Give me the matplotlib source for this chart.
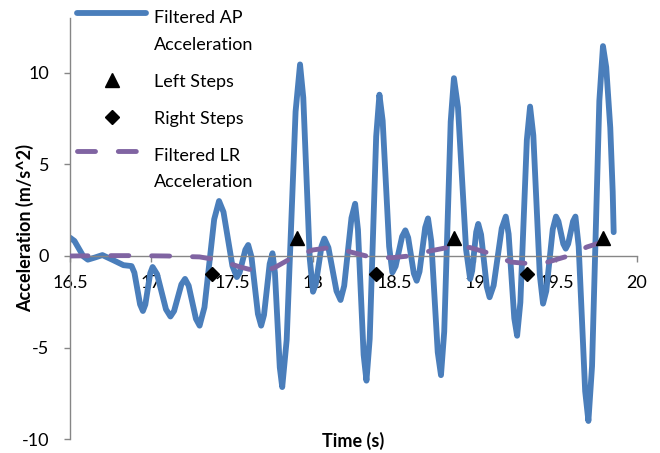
"""Filtered AP / LR acceleration with detected left and right steps."""

import matplotlib

matplotlib.use("Agg")
import matplotlib.pyplot as plt
import numpy as np
from matplotlib.legend_handler import HandlerLine2D

# Filtered AP acceleration (m/s^2)
ap_time = [
    16.50, 16.5275, 16.555, 16.5825, 16.61, 16.655, 16.70, 16.765, 16.83, 16.88,
    16.8975, 16.915, 16.9325, 16.95, 16.965, 16.98, 16.995, 17.01, 17.0375, 17.065,
    17.0925, 17.12, 17.1425, 17.165, 17.1875, 17.21, 17.2325, 17.255, 17.2775, 17.30,
    17.33, 17.36, 17.39, 17.42, 17.4475, 17.475, 17.5025, 17.53, 17.5475, 17.565,
    17.5825, 17.60, 17.62, 17.64, 17.66, 17.68, 17.6975, 17.715, 17.7325, 17.75,
    17.765, 17.78, 17.795, 17.81, 17.8375, 17.865, 17.8925, 17.92, 17.94, 17.96,
    17.98, 18.00, 18.0175, 18.035, 18.0525, 18.07, 18.095, 18.12, 18.145, 18.17,
    18.1925, 18.215, 18.2375, 18.26, 18.2775, 18.295, 18.3125, 18.33, 18.35, 18.37,
    18.39, 18.41, 18.43, 18.45, 18.47, 18.49, 18.51, 18.53, 18.55, 18.57,
    18.5875, 18.605, 18.6225, 18.64, 18.6575, 18.675, 18.6925, 18.71, 18.73, 18.75,
    18.77, 18.79, 18.81, 18.83, 18.85, 18.87, 18.895, 18.92, 18.945, 18.97,
    18.9825, 18.995, 19.0075, 19.02, 19.0375, 19.055, 19.0725, 19.09, 19.115, 19.14,
    19.165, 19.19, 19.2075, 19.225, 19.2425, 19.26, 19.28, 19.30, 19.32, 19.34,
    19.36, 19.38, 19.40, 19.42, 19.44, 19.46, 19.48, 19.50, 19.515, 19.53,
    19.545, 19.56, 19.575, 19.59, 19.605, 19.62, 19.64, 19.66, 19.68, 19.70,
    19.7225, 19.745, 19.7675, 19.79, 19.81, 19.835, 19.85, 19.856,
]
ap_accel = [
    1.0, 0.82, 0.4, -0.02, -0.2, -0.08, 0.05, -0.22, -0.5, -0.55,
    -0.91, -1.78, -2.64, -3.0, -2.65, -1.8, -0.95, -0.6, -0.99, -1.95,
    -2.91, -3.3, -3.0, -2.28, -1.55, -1.25, -1.62, -2.53, -3.43, -3.8,
    -2.8, -0.4, 2.0, 3.0, 2.4, 0.93, -0.54, -1.15, -0.89, -0.28,
    0.34, 0.6, -0.04, -1.6, -3.16, -3.8, -3.22, -1.83, -0.43, 0.15,
    -0.92, -3.5, -6.08, -7.15, -4.58, 1.65, 7.88, 10.45, 8.64, 4.25,
    -0.14, -1.95, -1.53, -0.5, 0.53, 0.95, 0.46, -0.73, -1.91, -2.4,
    -1.63, 0.23, 2.08, 2.85, 1.44, -1.98, -5.39, -6.8, -4.52, 1.0,
    6.52, 8.8, 7.38, 3.95, 0.52, -0.9, -0.56, 0.25, 1.06, 1.4,
    1.0, 0.03, -0.95, -1.35, -0.85, 0.35, 1.55, 2.05, 0.80, -2.23,
    -5.25, -6.5, -4.13, 1.6, 7.33, 9.7, 8.10, 4.23, 0.35, -1.25,
    -0.81, 0.25, 1.31, 1.75, 1.17, -0.25, -1.67, -2.25, -1.61, -0.05,
    1.51, 2.15, 1.2, -1.1, -3.4, -4.35, -2.53, 1.9, 6.33, 8.15,
    6.58, 2.78, -1.03, -2.6, -1.91, -0.23, 1.46, 2.15, 1.89, 1.28,
    0.66, 0.4, 0.66, 1.28, 1.89, 2.15, 0.52, -3.43, -7.37, -9.0,
    -6.01, 1.23, 8.46, 11.45, 10.3, 7.0, 3.5, 1.3,
]

# Filtered LR acceleration (m/s^2)
lr_time = [
    16.5, 16.7, 16.9, 17.1, 17.3, 17.43, 17.55, 17.67, 17.76, 17.88,
    18.0, 18.13, 18.24, 18.37, 18.49, 18.64, 18.72, 18.87, 18.97, 19.11,
    19.22, 19.34, 19.45, 19.59, 19.69, 19.79, 19.87,
]
lr_accel = [
    0.0, 0.02, 0.02, 0.0, -0.05, -0.25, -0.6, -0.87, -0.65, -0.05,
    0.33, 0.49, 0.2, -0.09, -0.09, 0.04, 0.27, 0.53, 0.46, 0.09,
    -0.33, -0.42, -0.33, 0.04, 0.49, 0.77, 0.9,
]

# step events
left_step_time = [17.90, 18.87, 19.79]
left_step_accel = [1.0, 1.0, 1.0]
right_step_time = [17.375, 18.39, 19.32]
right_step_accel = [-1.0, -1.0, -1.0]

x_ticks = [16.5, 17, 17.5, 18, 18.5, 19, 19.5, 20]
x_tick_labels = ["16.5", "17", "17.5", "18", "18.5", "19", "19.5", "20"]
y_ticks = [-10, -5, 0, 5, 10]
y_tick_labels = ["-10", "-5", "0", "5", "10"]

AP_COLOR = "#4a7ebb"
LR_COLOR = "#8064a2"
AXIS_COLOR = "#868686"
FONT_SIZE = 13


class FirstLineHandler(HandlerLine2D):
    """Put the legend line next to the first line of a two-line label."""

    def __init__(self, shift, **kwargs):
        super().__init__(**kwargs)
        self.shift = shift

    def create_artists(self, legend, orig_handle, xdescent, ydescent,
                       width, height, fontsize, trans):
        artists = super().create_artists(legend, orig_handle, xdescent, ydescent,
                                         width, height, fontsize, trans)
        for artist in artists:
            artist.set_ydata(np.asarray(artist.get_ydata()) + self.shift)
        return artists


plt.rcParams["font.family"] = ["Lato", "DejaVu Sans"]

fig = plt.figure(figsize=(6.6, 4.53), dpi=100)
ax = fig.add_axes([70 / 660, 1 - 439.3 / 453, 567 / 660, 421.6 / 453])

ap_line, = ax.plot(ap_time, ap_accel, color=AP_COLOR, lw=4.2,
                   solid_joinstyle="round", solid_capstyle="round",
                   label="Filtered AP\nAcceleration", zorder=2)
left_marks, = ax.plot(left_step_time, left_step_accel, "^", color="black",
                      ms=10.5, ls="none", label="Left Steps", zorder=4)
right_marks, = ax.plot(right_step_time, right_step_accel, "D", color="black",
                       ms=7, ls="none", label="Right Steps", zorder=4)
lr_line, = ax.plot(lr_time, lr_accel, color=LR_COLOR, lw=3.5,
                   dashes=(3.7, 4.7), dash_capstyle="round",
                   label="Filtered LR\nAcceleration", zorder=3)

ax.set_xlim(16.5, 20)
ax.set_ylim(-10, 13)
ax.set_xticks(x_ticks)
ax.set_xticklabels(x_tick_labels)
ax.set_yticks(y_ticks)
ax.set_yticklabels(y_tick_labels)
ax.set_axisbelow(True)

for side in ["top", "right"]:
    ax.spines[side].set_visible(False)
ax.spines["left"].set_color(AXIS_COLOR)
ax.spines["bottom"].set_color(AXIS_COLOR)
ax.spines["left"].set_linewidth(1.0)
ax.spines["bottom"].set_linewidth(1.0)
ax.spines["bottom"].set_position(("data", 0))

ax.tick_params(axis="x", direction="out", length=4, width=1.0, color=AXIS_COLOR,
               labelsize=FONT_SIZE, pad=10)
ax.tick_params(axis="y", direction="out", length=4, width=1.0, color=AXIS_COLOR,
               labelsize=FONT_SIZE, pad=11)

ax.set_xlabel("Time (s)", fontsize=FONT_SIZE, fontweight="bold")
ax.xaxis.set_label_coords(0.5, 0.018)
ax.set_ylabel("Acceleration (m/s^2)", fontsize=FONT_SIZE, fontweight="bold")
ax.yaxis.set_label_coords(-0.063, 0.5)

line_shift = 13.5
legend = ax.legend(
    handles=[ap_line, left_marks, right_marks, lr_line],
    handler_map={ap_line: FirstLineHandler(line_shift),
                 lr_line: FirstLineHandler(line_shift)},
    loc="upper left",
    bbox_to_anchor=(0.012, 1.018),
    frameon=False,
    fontsize=FONT_SIZE,
    borderpad=0,
    borderaxespad=0,
    handlelength=3.85,
    handletextpad=0.4,
    labelspacing=1.17,
)
for text in legend.get_texts():
    text.set_linespacing(1.8)

fig.savefig("out.png", dpi=100)
